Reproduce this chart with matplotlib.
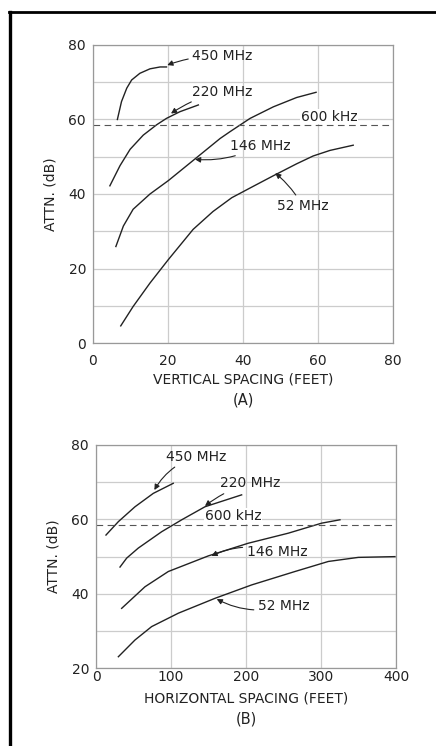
import numpy as np
import matplotlib
matplotlib.use("Agg")
import matplotlib.pyplot as plt
from matplotlib.lines import Line2D

plt.rcParams['font.family'] = ['DejaVu Sans']

ink = '#222222'
grid_col = '#cccccc'

######### (A) vertical spacing #################
va_450_x = [6.5, 7.6, 9.0, 10.3, 12.5, 15.2, 17.9, 19.6]
va_450_y = [60.0, 64.8, 68.4, 70.6, 72.4, 73.6, 74.1, 74.1]
va_220_x = [4.5, 7.2, 9.9, 13.4, 17.0, 19.6, 23.2, 28.1]
va_220_y = [42.2, 47.6, 52.0, 55.8, 58.6, 60.3, 62.1, 63.9]
va_146_x = [6.1, 8.1, 10.7, 15.2, 20.1, 26.7, 33.9, 36.5, 41.9, 48.1, 54.3, 59.5]
va_146_y = [25.9, 31.4, 35.9, 40.0, 43.6, 49.0, 54.9, 56.7, 60.3, 63.4, 65.9, 67.3]
va_52_x = [7.4, 10.7, 15.2, 20.1, 26.7, 32.0, 37.0, 43.0, 48.1, 54.3, 58.7, 63.2, 69.4]
va_52_y = [4.6, 9.8, 16.1, 22.4, 30.5, 35.3, 39.0, 42.2, 44.9, 48.1, 50.2, 51.7, 53.1]
va_600k = 58.5

######### (B) horizontal spacing #################
hb_450_x = [13.3, 29.8, 52.0, 76.4, 103.0]
hb_450_y = [55.8, 59.4, 63.4, 67.0, 69.7]
hb_220_x = [32.0, 40.9, 56.4, 87.6, 114.3, 145.3, 194.2]
hb_220_y = [47.2, 49.6, 52.3, 56.7, 59.9, 63.4, 66.6]
hb_146_x = [34.2, 65.3, 96.4, 149.8, 203.0, 256.4, 301.0, 325.3]
hb_146_y = [36.1, 41.9, 46.0, 50.2, 53.6, 56.3, 59.0, 59.9]
hb_52_x = [29.8, 52.0, 74.2, 109.8, 158.7, 207.6, 265.3, 309.8, 349.8, 398.7]
hb_52_y = [23.1, 27.6, 31.2, 34.8, 38.8, 42.4, 46.0, 48.7, 49.8, 50.0]
hb_600k = 58.5

fig = plt.figure(figsize=(4.36, 7.46), dpi=100)

# outer frame (left and top only)
fig.add_artist(Line2D([0.023, 0.023], [0.0, 0.984], color='black', lw=2.4))
fig.add_artist(Line2D([0.021, 1.0], [0.984, 0.984], color='black', lw=2.0))

fs = 10

def style(ax, xlim, ylim, xt, yt, xlabel, tag, xpad, xlpad, tagy):
    ax.set_xlim(*xlim)
    ax.set_ylim(*ylim)
    ax.set_xticks(xt)
    ax.set_yticks(yt)
    ax.set_yticks(np.arange(ylim[0], ylim[1] + 1, 10), minor=True)
    ax.grid(True, which='both', color=grid_col, lw=0.9)
    ax.tick_params(which='both', length=0, labelsize=fs, colors=ink)
    ax.tick_params(axis='y', pad=5)
    ax.tick_params(axis='x', pad=xpad)
    for s in ax.spines.values():
        s.set_color('#999999')
        s.set_linewidth(0.9)
    ax.set_xlabel(xlabel, fontsize=fs, color=ink, labelpad=xlpad)
    ax.set_ylabel('ATTN. (dB)', fontsize=fs, color=ink, labelpad=8)
    ax.text(0.5, tagy, tag, transform=ax.transAxes, ha='center', va='center',
            fontsize=fs + 0.5, color=ink)

arrow = dict(arrowstyle='-|>', color=ink, lw=0.8, mutation_scale=8,
             shrinkA=1, shrinkB=0)

# ---- top chart
ax1 = fig.add_axes([0.2133, 0.5402, 0.688, 0.3995])
style(ax1, (0, 80), (0, 80), [0, 20, 40, 60, 80], [0, 20, 40, 60, 80],
      'VERTICAL SPACING (FEET)', '(A)', 8, 3, -0.19)
for x, y in [(va_450_x, va_450_y), (va_220_x, va_220_y),
             (va_146_x, va_146_y), (va_52_x, va_52_y)]:
    ax1.plot(x, y, color=ink, lw=1.0)
ax1.axhline(va_600k, color='#555555', lw=0.8, dashes=(6, 4))
ax1.annotate('450 MHz', xy=(19.8, 74.6), xytext=(26.5, 77), fontsize=fs,
             color=ink, va='center', arrowprops=dict(arrow, connectionstyle='arc3,rad=0.1'))
ax1.annotate('220 MHz', xy=(20.8, 61.6), xytext=(26.5, 67.5), fontsize=fs,
             color=ink, va='center', arrowprops=dict(arrow, connectionstyle='arc3,rad=0.1'))
ax1.text(55.5, 60.8, '600 kHz', fontsize=fs, color=ink, va='center',
         bbox=dict(facecolor='white', edgecolor='none', pad=0.5))
ax1.annotate('146 MHz', xy=(27.2, 49.3), xytext=(36.5, 53), fontsize=fs,
             color=ink, va='center', arrowprops=dict(arrow, connectionstyle='arc3,rad=-0.15'))
ax1.annotate('52 MHz', xy=(48.6, 45.6), xytext=(49.0, 36.8), fontsize=fs,
             color=ink, va='center', arrowprops=dict(arrow, connectionstyle='arc3,rad=0.1'))

# ---- bottom chart
ax2 = fig.add_axes([0.2202, 0.1042, 0.688, 0.2993])
style(ax2, (0, 400), (20, 80), [0, 100, 200, 300, 400], [20, 40, 60, 80],
      'HORIZONTAL SPACING (FEET)', '(B)', 1, 6, -0.225)
for x, y in [(hb_450_x, hb_450_y), (hb_220_x, hb_220_y),
             (hb_146_x, hb_146_y), (hb_52_x, hb_52_y)]:
    ax2.plot(x, y, color=ink, lw=1.0)
ax2.axhline(hb_600k, color='#555555', lw=0.8, dashes=(6, 4))
ax2.annotate('450 MHz', xy=(77.8, 67.9), xytext=(94, 76.9), fontsize=fs,
             color=ink, va='center', arrowprops=dict(arrow, connectionstyle='arc3,rad=0.2'))
ax2.annotate('220 MHz', xy=(145.3, 63.6), xytext=(165, 69.7), fontsize=fs,
             color=ink, va='center', arrowprops=dict(arrow, connectionstyle='arc3,rad=0.1'))
ax2.text(145, 60.9, '600 kHz', fontsize=fs, color=ink, va='center',
         bbox=dict(facecolor='white', edgecolor='none', pad=0.5))
ax2.annotate('146 MHz', xy=(154, 50.2), xytext=(201, 51.3), fontsize=fs,
             color=ink, va='center', arrowprops=dict(arrow, connectionstyle='arc3,rad=0.2'))
ax2.annotate('52 MHz', xy=(161, 38.6), xytext=(216, 36.6), fontsize=fs,
             color=ink, va='center', arrowprops=dict(arrow, connectionstyle='arc3,rad=-0.2'))

fig.savefig('out.png', dpi=100, facecolor='white')
